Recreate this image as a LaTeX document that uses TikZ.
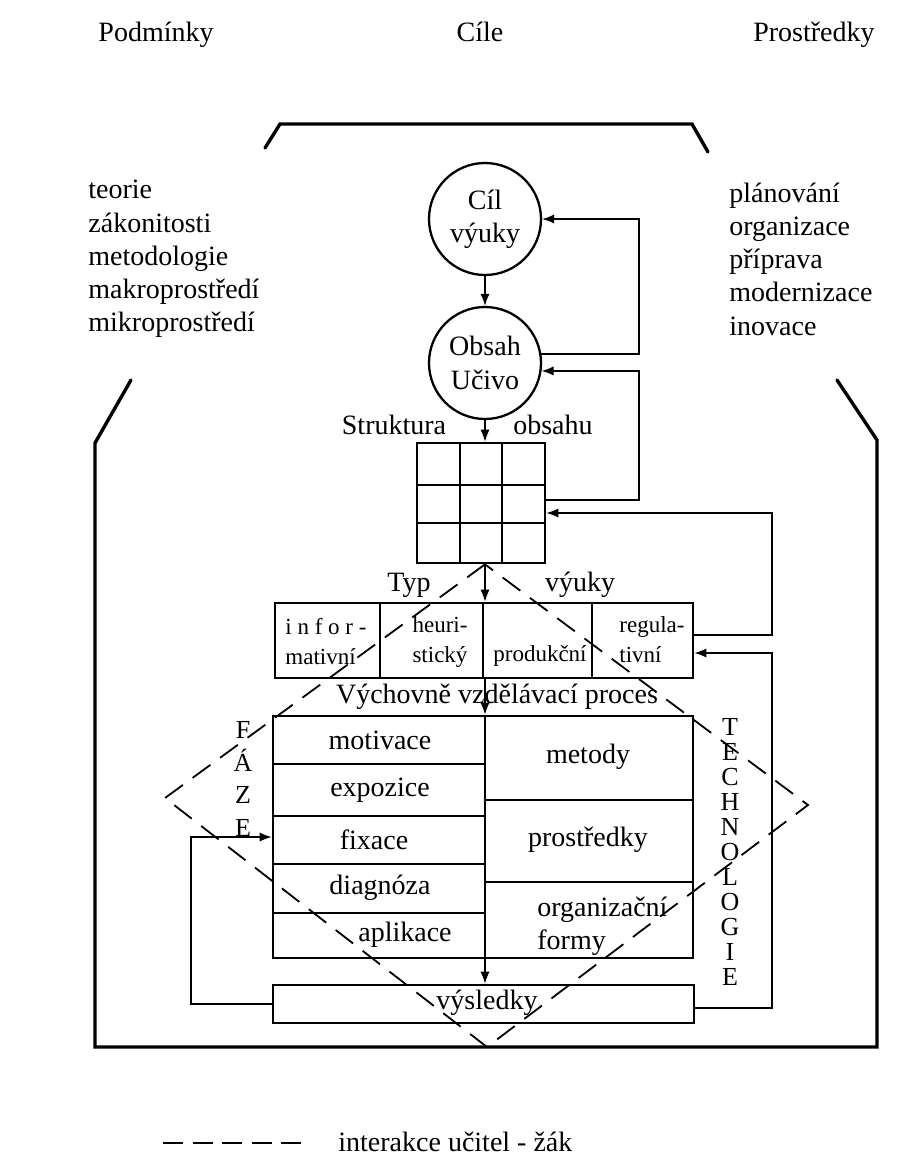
\documentclass[tikz,border=0pt]{standalone}
\usepackage{fontspec}
\setmainfont{Liberation Serif}
\usetikzlibrary{arrows.meta, calc}

\begin{document}
\begin{tikzpicture}[x=0.5pt, y=-0.5pt,
    every node/.style={inner sep=0pt, font=\fontsize{14}{16.6}\selectfont},
    ramec/.style={line width=1.7pt, line cap=round, line join=miter},
    kruh/.style={draw, circle, line width=1.15pt, minimum size=56pt, align=center},
    blok/.style={draw, line width=1.35pt},
    tenka/.style={line width=0.65pt},
    sipka/.style={line width=0.65pt, -{Latex[length=6pt,width=4.6pt]}},
    interakce/.style={line width=0.9pt, dash pattern=on 11pt off 6pt},
    maly/.style={font=\fontsize{11.5}{15}\selectfont},
    pismena/.style={align=center, font=\fontsize{13}{12.5}\selectfont}]
    \useasboundingbox (0,0) rectangle (901,1158);

    % nadpisy
    \node[anchor=base] (podm) at (156,41) {Podmínky};
    \node[anchor=base] (cile) at (480,41) {Cíle};
    \node[anchor=base] (prost) at (814,41) {Prostředky};

    % ramec
    \draw[ramec] (265,148) -- (280,124) -- (692,124) -- (708,152);
    \draw[ramec] (131,380) -- (95,443) -- (95,1047) -- (877,1047) -- (877,440) -- (837,380);

    \node[anchor=west, align=left] (podmtext) at (88,259)
        {teorie\\zákonitosti\\metodologie\\makroprostředí\\mikroprostředí};
    \node[anchor=west, align=left] (prosttext) at (729,259)
        {plánování\\organizace\\příprava\\modernizace\\inovace};

    % cil a obsah
    \node[kruh] (cil) at (485,219) {Cíl\\výuky};
    \node[kruh] (obsah) at (485,363) {Obsah\\Učivo};
    \node (strukt) at (394,425) {Struktura};
    \node (obsahu) at (553,425) {obsahu};

    % struktura obsahu
    \node[blok, minimum width=64pt, minimum height=60pt] (grid) at (481,503) {};
    \foreach \x in {460,502}
        \draw[tenka] (\x,443) -- (\x,563);
    \foreach \y in {485,523}
        \draw[tenka] (417,\y) -- (545,\y);

    % typ vyuky
    \node (typlab) at (409,585) {Typ};
    \node (vyuky) at (580,585) {výuky};
    \node[blok, minimum width=209pt, minimum height=37.5pt] (typ) at (484,640.5) {};
    \foreach \x in {380,483,592}
        \draw[tenka] (\x,603) -- (\x,678);
    \node[maly, align=left] (inf) at (326,642) {i n f o r -\\mativní};
    \node[maly, align=center] (heur) at (440,642) {heuri-\\stický};
    \node[maly] (prod) at (540,656) {produkční};
    \node[maly, align=left, anchor=west] (reg) at (619,640) {regula-\\tivní};

    % proces
    \node (vvp) at (497,697) {Výchovně vzdělávací proces};
    \node[blok, minimum width=210pt, minimum height=121pt] (proc) at (483,837) {};
    \foreach \y in {764,816,864,913}
        \draw[tenka] (273,\y) -- (485,\y);
    \foreach \y in {800,882}
        \draw[tenka] (485,\y) -- (693,\y);
    \draw[blok] (proc.north -| obsah.south) -- (proc.south -| obsah.south);
    \node (motiv) at (380,740) {motivace};
    \node (expoz) at (380,790) {expozice};
    \node (fixace) at (374,840) {fixace};
    \node (diagn) at (380,888) {diagnóza};
    \node (aplik) at (405,935) {aplikace};
    \node (metody) at (588,757) {metody};
    \node (prostr) at (588,840) {prostředky};
    \node[anchor=west, align=left] (orgf) at (537,926) {organizační\\formy};

    % vysledky
    \node[blok, minimum width=210.5pt, minimum height=19pt] (vys) at (483.5,1004) {};
    \node (vystext) at (487,1003) {výsledky};

    \node[pismena, font=\fontsize{13}{16.4}\selectfont] (fazetxt) at (243,779) {F\\Á\\Z\\E};
    \node[pismena] (techtxt) at (730,852) {T\\E\\C\\H\\N\\O\\L\\O\\G\\I\\E};

    % sipky dolu
    \draw[sipka] (cil) -- (obsah);
    \draw[sipka] (obsah.south) -- (obsah.south |- grid.north);
    \draw[sipka] (grid.south -| obsah.south) -- (typ.north -| obsah.south);
    \draw[sipka] (typ.south -| obsah.south) -- (proc.north -| obsah.south);
    \draw[sipka] (proc.south -| obsah.south) -- (vys.north -| obsah.south);

    % zpetne vazby
    \coordinate (colA) at (639,0);
    \coordinate (colB) at (772,0);
    \coordinate (colC) at (191,0);
    \draw[sipka] (obsah.9) -| (colA |- cil.east) -- (cil.east);
    \draw[sipka] ([yshift=1.5pt]grid.east) -| (colA |- obsah.-8) -- (obsah.-8);
    \draw[sipka] ([yshift=2.75pt]typ.east) -| ([yshift=-5pt]colB |- grid.east) -- ([yshift=-5pt]grid.east);
    \draw[sipka] ([yshift=-2pt]vys.east) -| ([yshift=-6.25pt]colB |- typ.east) -- ([yshift=-6.25pt]typ.east);
    \draw[sipka] (vys.west) -| (colC |- proc.west) -- (proc.west);

    % interakce ucitel - zak
    \coordinate (vlevo) at (165,798);
    \coordinate (dole) at (487,1047);
    \coordinate (vpravo) at (808,805);
    \draw[interakce] (grid.south -| obsah.south) -- (vlevo) -- (dole) -- (vpravo) -- cycle;

    % legenda
    \coordinate (leg1) at (163,1143);
    \coordinate (leg2) at (302,1143);
    \draw[interakce, line width=1.2pt, dash pattern=on 10pt off 4.75pt] (leg1) -- (leg2);
    \node[anchor=west] (legtext) at (338,1142) {interakce učitel - žák};
\end{tikzpicture}
\end{document}
